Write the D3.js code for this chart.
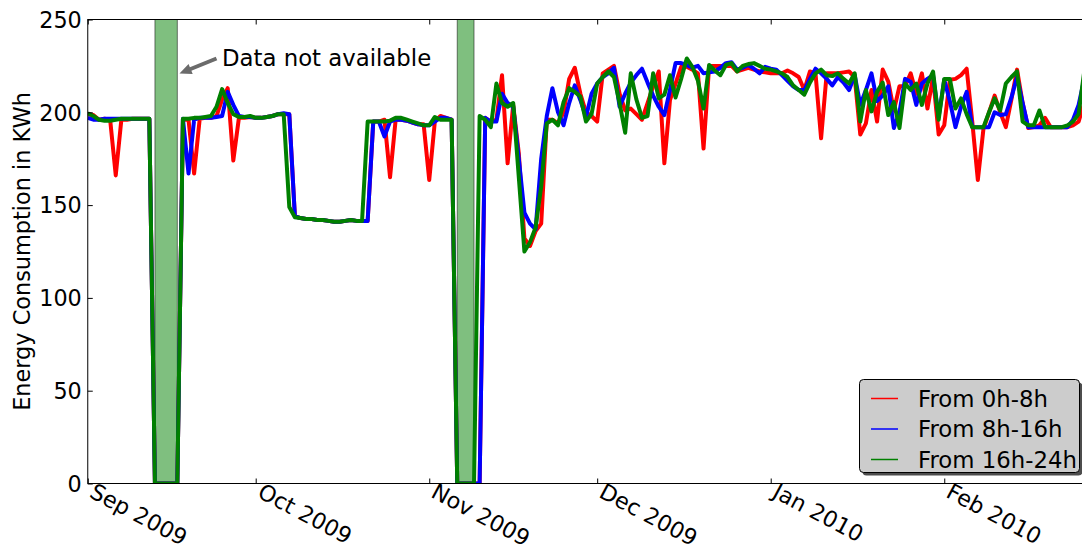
<!DOCTYPE html>
<html><head><meta charset="utf-8">
<script src="https://cdn.jsdelivr.net/npm/d3@7"></script>
<style>body{margin:0;background:#fff;} svg{display:block;}</style>
</head><body><svg id="c" width="1082" height="550"></svg>
<script>
// ---- data (daily values, first value = startDate) ----
const startDate = "2009-09-01";
const red0to8 = [199,198.5,196,196.5,196,166,196,196,196.5,196.5,196.5,196.5,0,0,0,0,0,196,196,167,196.5,197,197,198,207,213,174,197,197,197.5,197,197,197.5,198,199,199,199,144,143,142.5,142.5,142,142,141.5,141,141,141.5,142,141.5,141.5,141.5,195,195,196,165,196,196,195.5,194.5,193.5,193.5,163.5,195,198,197,196,0,0,0,0,0,197,195,196,220,172.5,204,178,132,128,136,140,196,196,194,200,218,224,210,200,198,195,221,223,225,210,201,202,199,196,205,214,222,172.5,206.5,215.5,224.5,224.5,223,221,180.5,225,225,225,225,225,222,223,224,223,222,221.5,221,221,221,222.5,221,219,212,222,221,186,221,221,221,221.5,222,219,188,194,212,195,223,216.5,201,214,214,221,210,221,202,219,188,193,217.5,218,220,223.5,195,163.5,191,200,209,200,192,207,223,205,191.5,192,193,197,192,192,192,192,193,195,205];
const blue8to16 = [197,196,196,196.5,196.5,196.5,196.5,196.5,196.5,196.5,196.5,196.5,0,0,0,0,0,196.5,167,196,197,197,197,197.5,198,211,204,198,197.5,197.5,197,197,197.5,198,199,199.5,199,144,143,142.5,142.5,142,142,141.5,141,141,141.5,142,141.5,141.5,141.5,195,195,187,195,196,196,195.5,194.5,193.5,193,193,195,197,197,196,0,0,0,0,0,197,195,195,210,205,203,175,146,140,137,175,198,213,200,193,205,214.5,206.5,197.5,210,215.5,219,221,224,203,210,216,220,223.5,216,209,203,198.5,212,226.5,226.5,225.5,224,225,221,221.5,222,224,226.5,227,223,224,225.5,223.5,221,224.5,223.5,223,220,217,214,212,212,218,223.5,221,218,214.5,219,216,212,220,204,212,221,206,209,214,191.5,200,218,216.5,204,215.5,218,220,197.5,217.5,206,192,203,211,192,192,192,192,200,198.5,199,208,219,205,192,192,192,192,192,192,192,192,196,204,218];
const green16to24 = [199.5,198,196,195.5,195.5,196,196.5,196.5,196.5,196.5,196.5,196.5,0,0,0,0,0,196.5,196.5,197,197,197.5,198,203,212.5,205,199,197.5,197.5,198,197,197,197.5,198,199,199,149,143.5,143,142.5,142.5,142,142,141.5,141,141,141.5,142,141.5,141.5,195,195,195,195,195.5,197,197,196,195,194,193,193,197.5,196,196,196,0,0,0,0,198,196,192,215.5,205,203,205,165,125,130,138,160,194,196,193,205.5,213,211,208.5,195,199,215.5,219,222,219,205,189,221,207,197,198,221,207.5,209.5,220,208,218,229,224.5,217,202,225.5,222.5,220,225.5,226.5,222,225,226,226.5,225,223.5,223,222,221,219,214.5,212,209.5,216,221,223,220,219.5,221,218,215.5,221,195,212,200.5,211,216,198.5,205.5,191.5,215.5,212,215.5,204,215.5,222,196,218,218,202,207.5,199,192,192,192,200,207.5,201,215.5,219,222,195,193,193,201,192,192,192,192,193,195,199,222];
const seriesNames = ["From 0h-8h", "From 8h-16h", "From 16h-24h"];
const seriesColors = ["#ff0000", "#0000ff", "#008000"];
const gapStarts = ["2009-09-13", "2009-11-06"];
const gapEnds = ["2009-09-17", "2009-11-09"];
const xTickDates = ["2009-09-01","2009-10-01","2009-11-01","2009-12-01","2010-01-01","2010-02-01"];
const xTickLabels = ["Sep 2009","Oct 2009","Nov 2009","Dec 2009","Jan 2010","Feb 2010"];
const yTicks = [0, 50, 100, 150, 200, 250];
const yLabel = "Energy Consumption in KWh";
const annotationText = "Data not available";

(function(){
// ---- layout ----
const FONT = "DejaVu Sans, Bitstream Vera Sans, sans-serif";
const pL = 87.76, pT = 19.5, pB = 483.5, pxPerDay = 5.598;
const parse = d3.utcParse("%Y-%m-%d");
const domainStart = parse("2009-09-01"), domainEnd = parse("2010-03-01");
const pR = pL + d3.utcDay.count(domainStart, domainEnd) * pxPerDay;
const x = d3.scaleUtc().domain([domainStart, domainEnd]).range([pL, pR]);
const y = d3.scaleLinear().domain([0, 250]).range([pB, pT]);

const svg = d3.select("#c");
const t0 = parse(startDate);
const allSeries = [red0to8, blue8to16, green16to24];

svg.append("defs").append("clipPath").attr("id","plot")
  .append("rect").attr("x", pL).attr("y", pT).attr("width", pR-pL).attr("height", pB-pT);

// gap spans
const gaps = gapStarts.map((s,i)=>({s:parse(s), e:parse(gapEnds[i])}));
svg.append("g").attr("clip-path","url(#plot)").selectAll("rect").data(gaps).join("rect")
  .attr("x", d=>x(d.s)).attr("width", d=>x(d.e)-x(d.s))
  .attr("y", pT).attr("height", pB-pT)
  .attr("fill", "#008000").attr("fill-opacity", 0.5)
  .attr("stroke", "#000").attr("stroke-opacity", 0.5).attr("stroke-width", 1);

// lines
const line = d3.line().x((d,i)=>x(d3.utcDay.offset(t0,i))).y(d=>y(d));
svg.append("g").attr("clip-path","url(#plot)").selectAll("path").data(allSeries).join("path")
  .attr("d", d=>line(d)).attr("fill","none")
  .attr("stroke", (d,i)=>seriesColors[i]).attr("stroke-width", 4)
  .attr("stroke-linejoin","round").attr("stroke-linecap","butt");

// frame
svg.append("rect").attr("x", pL).attr("y", pT).attr("width", pR-pL).attr("height", pB-pT)
  .attr("fill","none").attr("stroke","#000").attr("stroke-width",1);

// x axis (bottom)
const tickDates = xTickDates.map(parse);
const gx = svg.append("g").attr("transform", `translate(0,${pB})`)
  .call(d3.axisBottom(x).tickValues(tickDates).tickFormat((d,i)=>xTickLabels[i]).tickSizeInner(-5).tickSizeOuter(0));
gx.select(".domain").remove();
gx.attr("font-family", FONT).attr("font-size", 22.3);
gx.selectAll("text").attr("x",0).attr("y",0).attr("dy",0)
  .attr("text-anchor","start").attr("fill","#000")
  .attr("transform","translate(0,13) rotate(28)");
gx.selectAll("line").attr("stroke","#000");
// top ticks
const gxt = svg.append("g").attr("transform", `translate(0,${pT})`)
  .call(d3.axisTop(x).tickValues(tickDates).tickFormat("").tickSizeInner(-5).tickSizeOuter(0));
gxt.select(".domain").remove();
gxt.selectAll("line").attr("stroke","#000");

// y axis
const gy = svg.append("g").attr("transform", `translate(${pL},0)`)
  .call(d3.axisLeft(y).tickValues(yTicks).tickSizeInner(-5).tickSizeOuter(0).tickPadding(6));
gy.select(".domain").remove();
gy.attr("font-family", FONT).attr("font-size", 22.3);
gy.selectAll("text").attr("fill","#000").attr("dy","0.35em").attr("x",-6);
gy.selectAll("line").attr("stroke","#000");

// y label
svg.append("text").attr("transform", `translate(30,${(pT+pB)/2}) rotate(-90)`)
  .attr("text-anchor","middle").attr("font-family", FONT).attr("font-size", 22.4)
  .attr("fill","#000").text(yLabel);

// annotation
svg.append("text").attr("x", 222).attr("y", 66).attr("font-family", FONT).attr("font-size", 22.8)
  .attr("fill","#000").text(annotationText);
{
  const tail=[216.5,58.5], tip=[179.5,73.5];
  const dx=tip[0]-tail[0], dy=tip[1]-tail[1], L=Math.hypot(dx,dy);
  const ux=dx/L, uy=dy/L, nx=-uy, ny=ux;
  const hl=12, hw=5.5, sw=2;
  const bx=tip[0]-ux*hl, by=tip[1]-uy*hl;
  const pts=[[tail[0]+nx*sw,tail[1]+ny*sw],[bx+nx*sw,by+ny*sw],[bx+nx*hw,by+ny*hw],tip,
             [bx-nx*hw,by-ny*hw],[bx-nx*sw,by-ny*sw],[tail[0]-nx*sw,tail[1]-ny*sw]];
  svg.append("path").attr("d","M"+pts.map(p=>p.join(",")).join("L")+"Z").attr("fill","#6b6b6b");
}

// legend
const lg = svg.append("g");
const lx=859.5, ly=379.5, lw=220, lh=93;
lg.append("rect").attr("x",lx+3).attr("y",ly+3).attr("width",lw).attr("height",lh).attr("rx",4).attr("fill","#4d4d4d");
lg.append("rect").attr("x",lx).attr("y",ly).attr("width",lw).attr("height",lh).attr("rx",4)
  .attr("fill","#cccccc").attr("stroke","#000").attr("stroke-width",1);
seriesNames.forEach((n,i)=>{
  const cy = 398.5 + i*30.5;
  lg.append("line").attr("x1",871).attr("x2",898).attr("y1",cy).attr("y2",cy)
    .attr("stroke",seriesColors[i]).attr("stroke-width",1.5);
  lg.append("text").attr("x",918).attr("y",cy).attr("dy","0.36em").attr("font-family",FONT)
    .attr("font-size",22.8).attr("fill","#000").text(n);
});
})();
</script></body></html>
